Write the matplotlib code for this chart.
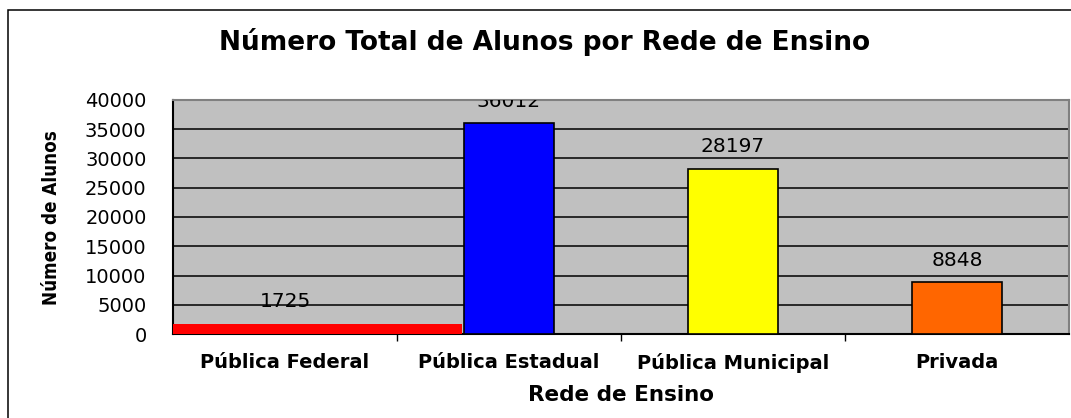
import matplotlib.pyplot as plt
from matplotlib.patches import Rectangle
from matplotlib.ticker import FixedLocator

redes = ["Pública Federal", "Pública Estadual", "Pública Municipal", "Privada"]
alunos = [1725, 36012, 28197, 8848]
cores = ["#FF0000", "#0000FF", "#FFFF00", "#FF6600"]
y_ticks = [0, 5000, 10000, 15000, 20000, 25000, 30000, 35000, 40000]

plt.rcParams["font.family"] = ["DejaVu Sans"]

W, H = 1071, 418
fig = plt.figure(figsize=(W / 100, H / 100), dpi=100)

# moldura externa (aberta à direita e embaixo)
fig.patches.append(Rectangle((8 / W, -0.05), 1.2, 1 - 10 / H + 0.05,
                             transform=fig.transFigure, fill=False,
                             edgecolor="black", linewidth=1.1))

ax = fig.add_axes([173 / W, (H - 334) / H, (1069 - 173) / W, (334 - 100) / H])
ax.set_facecolor("#C0C0C0")
ax.set_xlim(-0.5, len(redes) - 0.5)
ax.set_ylim(0, 40000)

x = list(range(len(redes)))
# a barra da rede federal aparece esticada no original
ax.bar(x[0] - 0.5, alunos[0], width=1.29, align="edge", color=cores[0],
       linewidth=0, zorder=3, clip_on=False)
ax.bar(x[1:], alunos[1:], width=0.4, color=cores[1:], edgecolor="black",
       linewidth=1.2, zorder=3)

for xi, v in zip(x, alunos):
    ax.annotate(str(v), (xi, v), xytext=(0, 16), textcoords="offset points",
                ha="center", va="center", fontsize=14.5, zorder=4,
                annotation_clip=False, clip_on=True)

ax.yaxis.set_major_locator(FixedLocator(y_ticks))
ax.grid(axis="y", color="black", linewidth=1.1, zorder=1)
ax.set_axisbelow(True)
ax.tick_params(axis="y", length=0, pad=19, labelsize=14)

ax.set_xticks(x)
ax.set_xticklabels(redes, fontsize=14, fontweight="bold")
ax.xaxis.set_minor_locator(FixedLocator([0.5, 1.5, 2.5]))
ax.tick_params(axis="x", which="major", length=0, pad=14)
ax.tick_params(axis="x", which="minor", length=5, width=1, direction="out")

for side in ["top", "right"]:
    ax.spines[side].set_color("#808080")
    ax.spines[side].set_linewidth(1.5)
for side in ["left", "bottom"]:
    ax.spines[side].set_color("black")
    ax.spines[side].set_linewidth(1.5)

ax.set_xlabel("Rede de Ensino", fontsize=15.5, fontweight="bold", labelpad=8)
fig.text(52 / W, 1 - 218 / H, "Número de Alunos", rotation=90,
         ha="center", va="center", fontsize=13.5, fontweight="bold",
         fontstretch="condensed")
fig.text(545 / W, 1 - 42 / H, "Número Total de Alunos por Rede de Ensino",
         ha="center", va="center", fontsize=19, fontweight="bold")

fig.savefig("out.png", dpi=100)
